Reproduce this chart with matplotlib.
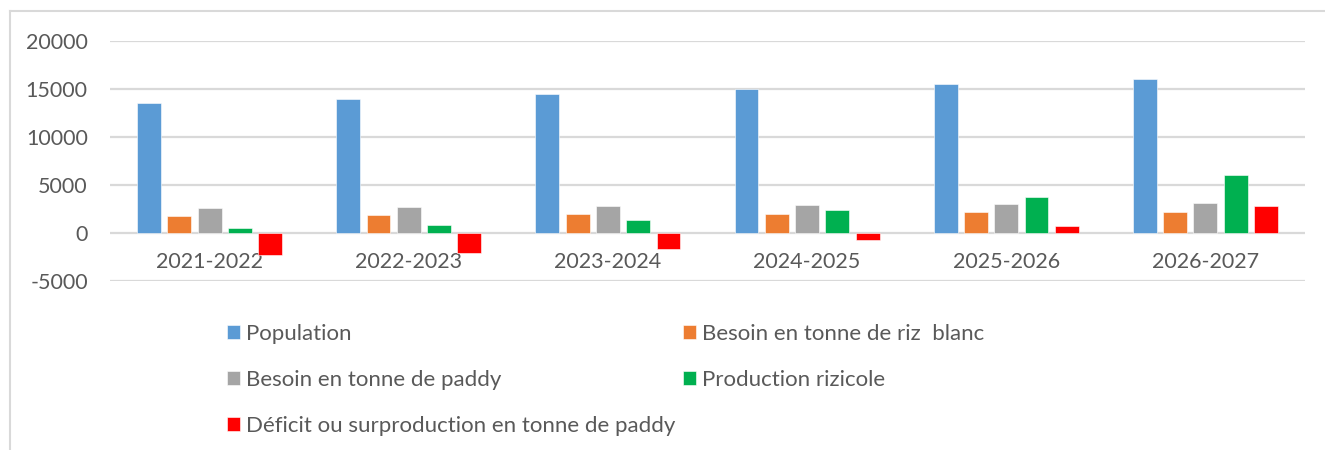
import matplotlib
matplotlib.use('Agg')
import matplotlib.pyplot as plt
from matplotlib.lines import Line2D
import numpy as np

plt.rcParams['font.family'] = ['Lato', 'DejaVu Sans']
plt.rcParams['axes.unicode_minus'] = False

campagnes = ['2021-2022', '2022-2023', '2023-2024', '2024-2025', '2025-2026', '2026-2027']
population = [13500, 14000, 14500, 15000, 15500, 16000]
besoin_riz_blanc = [1800, 1880, 1950, 2020, 2150, 2220]
besoin_paddy = [2600, 2730, 2820, 2920, 3050, 3160]
production = [540, 860, 1390, 2400, 3780, 6000]
deficit = [-2290, -2080, -1640, -730, 730, 2840]

series = [
    ('Population', population, '#5B9BD5'),
    ('Besoin en tonne de riz  blanc', besoin_riz_blanc, '#ED7D31'),
    ('Besoin en tonne de paddy', besoin_paddy, '#A5A5A5'),
    ('Production rizicole', production, '#00B050'),
    ('Déficit ou surproduction en tonne de paddy', deficit, '#FF0000'),
]

text_col = '#595959'
grid_col = '#d9d9d9'

fig = plt.figure(figsize=(13.25, 4.5), dpi=100)
ax = fig.add_axes([110 / 1325, 1 - 281 / 450, 1195 / 1325, 240 / 450])

x = np.arange(len(campagnes))
step = 0.152
width = 0.12
handles = []
for i, (name, vals, col) in enumerate(series):
    b = ax.bar(x + (i - 2) * step, vals, width, color=col, label=name,
               edgecolor='white', linewidth=0.4, zorder=3)
    handles.append(b)

ax.set_xlim(-0.5, len(campagnes) - 0.5)
ax.set_ylim(-5000, 20000)
ax.set_yticks(range(-5000, 20001, 5000))
ax.yaxis.grid(True, color=grid_col, linewidth=1.6, zorder=0)
ax.set_axisbelow(True)

for s in ['top', 'right', 'left']:
    ax.spines[s].set_visible(False)
ax.spines['bottom'].set_position(('data', 0))
ax.spines['bottom'].set_color('none')

ax.set_xticks(x)
ax.set_xticklabels(campagnes)
ax.tick_params(axis='x', length=0, pad=14, labelsize=15.5, labelcolor=text_col)
ax.tick_params(axis='y', length=0, pad=16, labelsize=15.5, labelcolor=text_col)

# ordre ligne par ligne comme dans Excel
order = [0, 2, 4, 1, 3]
leg = fig.legend([handles[k] for k in order], [series[k][0] for k in order],
                 ncol=2, loc='upper left', bbox_to_anchor=(227 / 1325, 1 - 324 / 450),
                 frameon=False, fontsize=16, handlelength=0.6, handleheight=0.6,
                 handletextpad=0.25, labelspacing=1.17, columnspacing=0.35,
                 borderaxespad=0, borderpad=0)
for t in leg.get_texts():
    t.set_color(text_col)

# cadre du graphique
fig.add_artist(Line2D([10 / 1325, 10 / 1325], [0, 1 - 11 / 450], color=grid_col, lw=1.5))
fig.add_artist(Line2D([10 / 1325, 1], [1 - 11 / 450, 1 - 11 / 450], color=grid_col, lw=1.5))

fig.savefig('out.png', dpi=100)
